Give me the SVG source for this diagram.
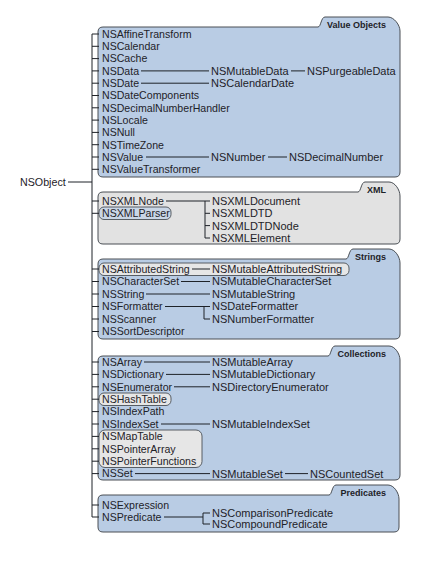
<svg xmlns="http://www.w3.org/2000/svg" width="425" height="569" viewBox="0 0 425 569">
<style>
text{font-family:"Liberation Sans",Arial,sans-serif;font-size:10.6px;fill:#1e2228}
.l2{font-size:11px}
.tab{font-weight:bold;font-size:9px;text-anchor:end}
.blue{fill:#b9cce4;stroke:#4a4f55;stroke-width:1}
.grey{fill:#e2e2e2;stroke:#4a4f55;stroke-width:1}
.box{fill:#e6e6e6;stroke:#4a4f55;stroke-width:0.9}
.boxb{fill:#c9d6e6;stroke:#4a4f55;stroke-width:0.9}
.ln{stroke:#1e2228;stroke-width:1;fill:none}
</style>
<rect width="425" height="569" fill="#ffffff"/>
<g id="panel-value-objects">
<path class="blue" d="M103,27 H318 C321,27 321,17 325,17 H388 C394,17 400,25 400,31 V172 Q400,177 395,177 H103 Q98,177 98,172 V32 Q98,27 103,27 Z"/>
<text class="tab" x="386" y="28">Value Objects</text>
</g>
<g id="panel-xml">
<path class="grey" d="M103,192 H358 C361,192 361,182 365,182 H389 C395,182 400,190 400,196 V239 Q400,244 395,244 H103 Q98,244 98,239 V197 Q98,192 103,192 Z"/>
<text class="tab" x="386" y="193">XML</text>
</g>
<g id="panel-strings">
<path class="blue" d="M103,259 H346 C349,259 349,249 353,249 H389 C395,249 400,257 400,263 V334 Q400,339 395,339 H103 Q98,339 98,334 V264 Q98,259 103,259 Z"/>
<text class="tab" x="386" y="260">Strings</text>
</g>
<g id="panel-collections">
<path class="blue" d="M103,356 H328 C331,356 331,346 335,346 H389 C395,346 400,354 400,360 V475 Q400,480 395,480 H103 Q98,480 98,475 V361 Q98,356 103,356 Z"/>
<text class="tab" x="386" y="357">Collections</text>
</g>
<g id="panel-predicates">
<path class="blue" d="M103,495 H329 C332,495 332,485 336,485 H388 C394,485 399,493 399,499 V527 Q399,532 394,532 H103 Q98,532 98,527 V500 Q98,495 103,495 Z"/>
<text class="tab" x="386" y="496">Predicates</text>
</g>
<g id="boxes">
<rect class="boxb" x="99" y="207" width="72" height="12.5" rx="5"/>
<rect class="box" x="99" y="263" width="250" height="12.5" rx="5"/>
<rect class="box" x="99" y="393" width="72" height="12.5" rx="5"/>
<rect class="box" x="99" y="430" width="103" height="37.5" rx="6"/>
</g>
<g id="connectors">
<path class="ln" d="M68,182 H92 M92,34 V517"/>
<path class="ln" d="M92,34H99M92,46.3H99M92,58.6H99M92,70.9H99M92,83.2H99M92,95.5H99M92,107.8H99M92,120.1H99M92,132.4H99M92,144.7H99M92,157H99M92,169.3H99"/>
<path class="ln" d="M92,201H99M92,213.3H99"/>
<path class="ln" d="M92,269H99M92,281.5H99M92,294H99M92,306.5H99M92,319H99M92,331.5H99"/>
<path class="ln" d="M92,362H99M92,374.4H99M92,386.8H99M92,399.2H99M92,411.6H99M92,424H99M92,436.4H99M92,448.8H99M92,461.2H99M92,473.6H99"/>
<path class="ln" d="M92,505H99M92,517H99"/>
<path class="ln" d="M141,70.9H209 M291,70.9H305 M141,83.2H209 M146,157H209 M268,157H287"/>
<path class="ln" d="M166,201H210 M205,201V238 M205,213.3H210 M205,225.6H210 M205,238H210"/>
<path class="ln" d="M192,269H210 M181,281.5H210 M146,294H210 M165,306.5H210 M204,306.5V319H210"/>
<path class="ln" d="M144,362H210 M166,374.4H210 M174,386.8H210 M161,424H210 M135,473.6H210 M285,473.6H308"/>
<path class="ln" d="M164,517H203 M203,513V524 M203,513H210 M203,524H210"/>
</g>
<g id="node-root"><text x="20" y="185.8" style="font-size:10.7px">NSObject</text></g>
<g id="nodes-value-objects">
<text x="102" y="37.8">NSAffineTransform</text>
<text x="102" y="50.1">NSCalendar</text>
<text x="102" y="62.4">NSCache</text>
<text x="102" y="74.7">NSData</text>
<text x="102" y="87">NSDate</text>
<text x="102" y="99.3">NSDateComponents</text>
<text x="102" y="111.6">NSDecimalNumberHandler</text>
<text x="102" y="123.9">NSLocale</text>
<text x="102" y="136.2">NSNull</text>
<text x="102" y="148.5">NSTimeZone</text>
<text x="102" y="160.8">NSValue</text>
<text x="102" y="173.1">NSValueTransformer</text>
<text class="l2" x="211" y="74.8">NSMutableData</text>
<text class="l2" x="307" y="74.8">NSPurgeableData</text>
<text class="l2" x="211" y="87.1">NSCalendarDate</text>
<text class="l2" x="211" y="160.9">NSNumber</text>
<text class="l2" x="289" y="160.9">NSDecimalNumber</text>
</g>
<g id="nodes-xml">
<text x="102" y="204.8">NSXMLNode</text>
<text x="102" y="217.1">NSXMLParser</text>
<text class="l2" x="212" y="204.9">NSXMLDocument</text>
<text class="l2" x="212" y="217.2">NSXMLDTD</text>
<text class="l2" x="212" y="229.5">NSXMLDTDNode</text>
<text class="l2" x="212" y="241.9">NSXMLElement</text>
</g>
<g id="nodes-strings">
<text x="102" y="272.8">NSAttributedString</text>
<text x="102" y="285.3">NSCharacterSet</text>
<text x="102" y="297.8">NSString</text>
<text x="102" y="310.3">NSFormatter</text>
<text x="102" y="322.8">NSScanner</text>
<text x="102" y="335.3">NSSortDescriptor</text>
<text class="l2" x="212" y="272.9">NSMutableAttributedString</text>
<text class="l2" x="212" y="285.4">NSMutableCharacterSet</text>
<text class="l2" x="212" y="297.9">NSMutableString</text>
<text class="l2" x="212" y="310.4">NSDateFormatter</text>
<text class="l2" x="212" y="322.9">NSNumberFormatter</text>
</g>
<g id="nodes-collections">
<text x="102" y="365.8">NSArray</text>
<text x="102" y="378.2">NSDictionary</text>
<text x="102" y="390.6">NSEnumerator</text>
<text x="102" y="403">NSHashTable</text>
<text x="102" y="415.4">NSIndexPath</text>
<text x="102" y="427.8">NSIndexSet</text>
<text x="102" y="440.2">NSMapTable</text>
<text x="102" y="452.6">NSPointerArray</text>
<text x="102" y="465">NSPointerFunctions</text>
<text x="102" y="477.4">NSSet</text>
<text class="l2" x="212" y="365.9">NSMutableArray</text>
<text class="l2" x="212" y="378.3">NSMutableDictionary</text>
<text class="l2" x="212" y="390.7">NSDirectoryEnumerator</text>
<text class="l2" x="212" y="427.9">NSMutableIndexSet</text>
<text class="l2" x="212" y="477.5">NSMutableSet</text>
<text class="l2" x="310" y="477.5">NSCountedSet</text>
</g>
<g id="nodes-predicates">
<text x="102" y="508.8">NSExpression</text>
<text x="102" y="520.8">NSPredicate</text>
<text class="l2" x="212" y="516.9">NSComparisonPredicate</text>
<text class="l2" x="212" y="527.9">NSCompoundPredicate</text>
</g>
</svg>
